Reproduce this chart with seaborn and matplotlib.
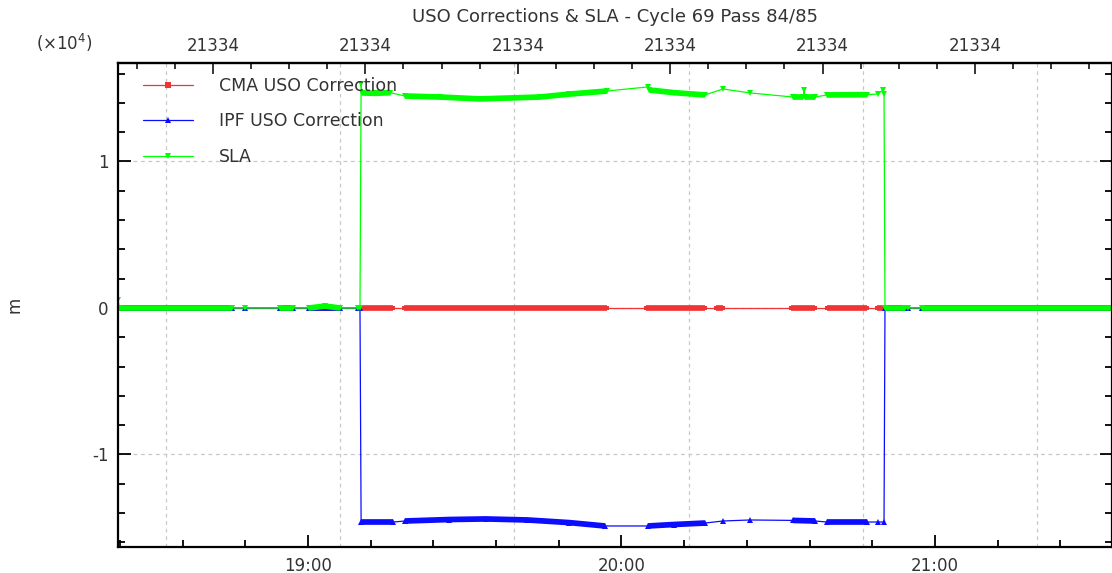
import pandas as pd
import matplotlib
matplotlib.use("Agg")
import matplotlib.pyplot as plt
import matplotlib.dates as mdates
from matplotlib.lines import Line2D
from matplotlib.ticker import FixedLocator, FixedFormatter, MultipleLocator, AutoMinorLocator, FuncFormatter
import seaborn as sns

DAY = "2010-06-01 "

# CMA USO correction (m) - flat at zero for the whole pass
cma_time = ["18:23:38", "18:45:27", "18:47:56", "18:54:38", "18:57:08", "19:00:11", "19:06:07", "19:09:34",
            "19:09:57", "19:16:20", "19:18:20", "19:57:14", "20:04:40", "20:16:00", "20:18:00", "20:19:30",
            "20:32:30", "20:37:00", "20:39:20", "20:47:00", "20:48:50", "20:50:20", "20:54:15", "20:57:31",
            "21:33:53"]
cma_value = [0, 0, 0, 0, 0, 0, 0, 0,
             0, 0, 0, 0, 0, 0, 0, 0,
             0, 0, 0, 0, 0, 0, 0, 0,
             0]
cma_dense = [("18:23:38", "18:45:27"), ("18:54:38", "18:57:08"), ("19:00:11", "19:06:07"),
             ("19:09:57", "19:16:20"), ("19:18:20", "19:57:14"), ("20:04:40", "20:16:00"),
             ("20:18:00", "20:19:30"), ("20:32:30", "20:37:00"), ("20:39:20", "20:47:00"),
             ("20:48:50", "20:50:20"), ("20:50:20", "20:54:15"), ("20:57:31", "21:33:53")]

# IPF USO correction (m)
ipf_time = ["18:23:38", "18:45:27", "18:47:56", "18:54:38", "18:57:08", "19:00:11", "19:06:07", "19:09:34",
            "19:09:57", "19:10:10", "19:16:20", "19:18:34", "19:27:00", "19:34:00", "19:42:00", "19:50:00",
            "19:56:50", "20:05:04", "20:10:00", "20:15:59", "20:19:26", "20:24:35", "20:32:49", "20:37:02",
            "20:39:20", "20:46:59", "20:49:05", "20:50:15", "20:50:26", "20:54:15", "20:54:50", "20:57:31",
            "21:33:53"]
ipf_value = [0, 0, 0, 0, 0, 0, 0, 0,
             0, -14610, -14610, -14540, -14440, -14400, -14470, -14650,
             -14880, -14880, -14780, -14680, -14540, -14470, -14500, -14540,
             -14610, -14610, -14610, -14610, 0, 0, 0, 0,
             0]
ipf_dense = [("18:23:38", "18:45:27"), ("18:54:38", "18:57:08"), ("19:00:11", "19:06:07"),
             ("19:10:10", "19:16:20"), ("19:18:34", "19:56:50"), ("20:05:04", "20:15:59"),
             ("20:32:49", "20:37:02"), ("20:39:20", "20:46:59"), ("20:50:26", "20:54:15"),
             ("20:57:31", "21:33:53")]

# SLA (m)
sla_time = ["18:23:38", "18:23:55", "18:45:27", "18:47:56", "18:54:38", "18:57:08", "19:00:11", "19:03:15",
            "19:06:07", "19:09:34", "19:09:57", "19:10:10", "19:10:20", "19:13:00", "19:15:42", "19:18:34",
            "19:25:16", "19:32:55", "19:44:24", "19:50:00", "19:57:14", "20:05:04", "20:05:20", "20:10:00",
            "20:15:59", "20:19:26", "20:24:35", "20:32:49", "20:34:50", "20:34:56", "20:35:02", "20:37:02",
            "20:39:20", "20:46:59", "20:49:05", "20:50:03", "20:50:15", "20:50:26", "20:54:15", "20:54:50",
            "20:57:31", "21:33:53"]
sla_value = [550, 0, 0, 0, 0, 0, 0, 130,
             0, 0, 0, 15290, 14680, 14650, 14700, 14470,
             14400, 14270, 14400, 14600, 14810, 15090, 14880, 14700,
             14540, 14950, 14680, 14400, 14400, 14880, 14400, 14400,
             14540, 14560, 14610, 14880, 14600, 0, 0, 0,
             0, 0]
sla_dense = [("18:23:55", "18:45:27"), ("18:54:38", "18:57:08"), ("19:00:11", "19:06:07"),
             ("19:10:20", "19:15:42"), ("19:18:34", "19:57:14"), ("20:05:20", "20:15:59"),
             ("20:32:49", "20:34:50"), ("20:35:02", "20:37:02"), ("20:39:20", "20:46:59"),
             ("20:50:26", "20:54:15"), ("20:57:31", "21:33:53")]

# top axis (revolution / day counter) and the odd vertical grid
rev_time = ["18:41:49", "19:10:59", "19:40:09", "20:09:19", "20:38:29", "21:07:39"]
rev_label = ["21334", "21334", "21334", "21334", "21334", "21334"]
grid_time = ["18:32:50", "19:06:10", "19:39:30", "20:12:50", "20:46:10", "21:19:30"]
x_range = ["18:23:38", "21:33:53"]

series = [
    ("CMA USO Correction", cma_time, cma_value, cma_dense, "#f03434", "s", 3.5),
    ("IPF USO Correction", ipf_time, ipf_value, ipf_dense, "#0c0cff", "^", 4),
    ("SLA", sla_time, sla_value, sla_dense, "#00ff00", "v", 5),
]


def to_dt(times):
    return pd.to_datetime([DAY + t for t in times])


sns.set_style("white")
plt.rcParams["font.family"] = ["DejaVu Sans"]
text_col = "#333333"

fig = plt.figure(figsize=(11.12, 5.73), dpi=100)
ax = fig.add_axes([0.1061, 0.0454, 0.8939, 0.8447])

for name, times, values, dense, col, mk, ms in series:
    df = pd.DataFrame({"time": to_dt(times), "value": values})
    sns.lineplot(data=df, x="time", y="value", ax=ax, color=col, linewidth=0.9,
                 marker=mk, markersize=ms, markeredgewidth=0, estimator=None, sort=False)
    for t0, t1 in dense:
        a, b = to_dt([t0, t1])
        seg = df[(df["time"] >= a) & (df["time"] <= b)]
        sns.lineplot(data=seg, x="time", y="value", ax=ax, color=col, linewidth=4.1,
                     estimator=None, sort=False, solid_capstyle="butt")

ax.set_xlim(to_dt(x_range))
ax.set_ylim(-16314, 16724)

for g in to_dt(grid_time):
    ax.axvline(g, color="#c8c8c8", linestyle=(0, (3, 3)), linewidth=0.9, zorder=0)
for yv in [-10000, 0, 10000]:
    ax.axhline(yv, color="#c8c8c8", linestyle=(0, (3, 3)), linewidth=0.9, zorder=0)

ax.xaxis.set_major_locator(mdates.HourLocator())
ax.xaxis.set_major_formatter(mdates.DateFormatter("%H:%M"))
ax.xaxis.set_minor_locator(mdates.MinuteLocator(byminute=[12, 24, 36, 48]))
ax.yaxis.set_major_locator(MultipleLocator(10000))
ax.yaxis.set_minor_locator(MultipleLocator(2000))
ax.yaxis.set_major_formatter(FuncFormatter(lambda v, p: f"{int(round(v / 1e4))}"))

ax.tick_params(which="both", direction="in", colors="black", labelcolor=text_col,
               labelsize=12, left=True, right=True, bottom=True, top=False)
ax.tick_params(which="major", length=9, width=1.3, pad=7)
ax.tick_params(which="minor", length=5, width=1.3)

top = ax.secondary_xaxis("top")
top.xaxis.set_major_locator(FixedLocator(mdates.date2num(to_dt(rev_time))))
top.xaxis.set_major_formatter(FixedFormatter(rev_label))
top.xaxis.set_minor_locator(AutoMinorLocator(4))
top.tick_params(which="both", direction="in", labelcolor=text_col, labelsize=12)
top.tick_params(which="major", length=8, width=1.3, pad=6)
top.tick_params(which="minor", length=4, width=1.3)
top.spines["top"].set_linewidth(1.6)

for s in ["left", "bottom", "top", "right"]:
    ax.spines[s].set_linewidth(1.6)
    ax.spines[s].set_color("black")

ax.set_xlabel("")
ax.set_ylabel("m", color=text_col, fontsize=12)
ax.yaxis.set_label_coords(-0.095, 0.5)
fig.text(0.553, 0.97, "USO Corrections & SLA - Cycle 69 Pass 84/85", ha="center", va="center",
         fontsize=13, color=text_col)
fig.text(0.058, 0.925, "(\u00d710$^4$)", ha="center", va="center", fontsize=12, color=text_col)

handles = [Line2D([], [], color=col, linewidth=0.9, marker=mk, markersize=4, markeredgewidth=0)
           for _, _, _, _, col, mk, _ in series]
labels = [s[0] for s in series]
ax.legend(handles, labels, loc="upper left", bbox_to_anchor=(0.0252, 0.971), frameon=False,
          borderpad=0, borderaxespad=0, handlelength=2.9, handletextpad=1.45, labelspacing=1.0,
          fontsize=12.5, labelcolor=text_col)

fig.savefig("out.png", dpi=100)
